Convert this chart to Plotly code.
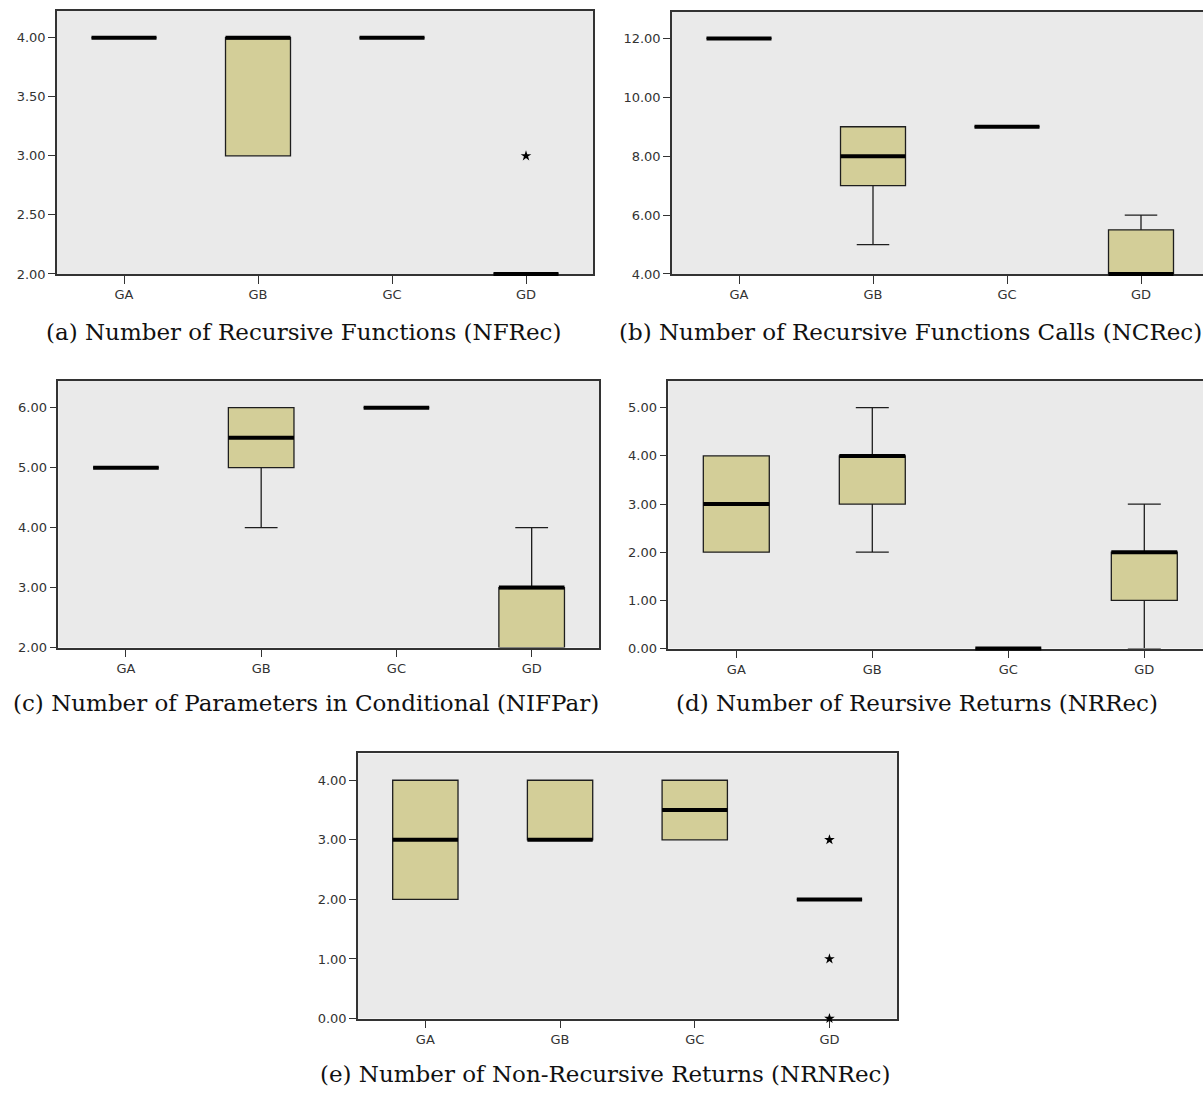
import plotly.graph_objects as go

W, H = 1203, 1097

groups = ["GA", "GB", "GC", "GD"]

# (a) Number of Recursive Functions
nfrec_q1 = [4, 3, 4, 2]
nfrec_median = [4, 4, 4, 2]
nfrec_q3 = [4, 4, 4, 2]
nfrec_lower = [4, 3, 4, 2]
nfrec_upper = [4, 4, 4, 2]
nfrec_out_group = ["GD"]
nfrec_out_value = [3]

# (b) Number of Recursive Functions Calls
ncrec_q1 = [12, 7, 9, 4]
ncrec_median = [12, 8, 9, 4]
ncrec_q3 = [12, 9, 9, 5.5]
ncrec_lower = [12, 5, 9, 4]
ncrec_upper = [12, 9, 9, 6]
ncrec_out_group = []
ncrec_out_value = []

# (c) Number of Parameters in Conditional
nifpar_q1 = [5, 5, 6, 2]
nifpar_median = [5, 5.5, 6, 3]
nifpar_q3 = [5, 6, 6, 3]
nifpar_lower = [5, 4, 6, 2]
nifpar_upper = [5, 6, 6, 4]
nifpar_out_group = []
nifpar_out_value = []

# (d) Number of Recursive Returns
nrrec_q1 = [2, 3, 0, 1]
nrrec_median = [3, 4, 0, 2]
nrrec_q3 = [4, 4, 0, 2]
nrrec_lower = [2, 2, 0, 0]
nrrec_upper = [4, 5, 0, 3]
nrrec_out_group = []
nrrec_out_value = []

# (e) Number of Non-Recursive Returns
nrnrec_q1 = [2, 3, 3, 2]
nrnrec_median = [3, 3, 3.5, 2]
nrnrec_q3 = [4, 4, 4, 2]
nrnrec_lower = [2, 3, 3, 2]
nrnrec_upper = [4, 4, 4, 2]
nrnrec_out_group = ["GD", "GD", "GD"]
nrnrec_out_value = [3, 1, 0]

# y tick values per panel
ticks_a = [2.0, 2.5, 3.0, 3.5, 4.0]
ticks_b = [4, 6, 8, 10, 12]
ticks_c = [2, 3, 4, 5, 6]
ticks_d = [0, 1, 2, 3, 4, 5]
ticks_e = [0, 1, 2, 3, 4]

captions = [
    "(a) Number of Recursive Functions (NFRec)",
    "(b) Number of Recursive Functions Calls (NCRec)",
    "(c) Number of Parameters in Conditional (NIFPar)",
    "(d) Number of Reursive Returns (NRRec)",
    "(e) Number of Non-Recursive Returns (NRNRec)",
]

BOX_W = 0.485
FILL = "#D3CE98"
BG = "#EAEAEA"
FRAME = "#333333"
TICKFONT = dict(family="DejaVu Sans", size=13, color="#333333")
LINE_EW_SCALE = 1.4  # plotly draws line-ew markers 1.4x their nominal size

# panel frames in pixels: left, top, right, bottom; px per category; y range; closed right side
panels = [
    dict(stats=(nfrec_q1, nfrec_median, nfrec_q3, nfrec_lower, nfrec_upper),
         out=(nfrec_out_group, nfrec_out_value), ticks=ticks_a,
         frame=(57, 11, 593, 276), cat_px=134, yr=(2, 4.227), closed=True,
         cap=(303, 334)),
    dict(stats=(ncrec_q1, ncrec_median, ncrec_q3, ncrec_lower, ncrec_upper),
         out=(ncrec_out_group, ncrec_out_value), ticks=ticks_b,
         frame=(672, 12, W, 276), cat_px=134, yr=(4, 12.9), closed=False,
         cap=(911, 334)),
    dict(stats=(nifpar_q1, nifpar_median, nifpar_q3, nifpar_lower, nifpar_upper),
         out=(nifpar_out_group, nifpar_out_value), ticks=ticks_c,
         frame=(58.3, 383.3, 599.3, 652.3), cat_px=135.25, yr=(2, 6.454), closed=True,
         cap=(305.5, 708)),
    dict(stats=(nrrec_q1, nrrec_median, nrrec_q3, nrrec_lower, nrrec_upper),
         out=(nrrec_out_group, nrrec_out_value), ticks=ticks_d,
         frame=(668.3, 383.3, W, 653.3), cat_px=136, yr=(0, 5.565), closed=False,
         cap=(917, 708)),
    dict(stats=(nrnrec_q1, nrnrec_median, nrnrec_q3, nrnrec_lower, nrnrec_upper),
         out=(nrnrec_out_group, nrnrec_out_value), ticks=ticks_e,
         frame=(358, 759, 897, 1026), cat_px=134.7, yr=(0, 4.45), closed=True,
         cap=(604.5, 1082)),
]

fig = go.Figure()
layout = {}
annotations = []
pos = list(range(len(groups)))

for k, p in enumerate(panels):
    n = "" if k == 0 else str(k + 1)
    xa, ya = "x" + n, "y" + n
    q1, med, q3, lo, hi = p["stats"]

    fig.add_trace(go.Box(
        x=pos, q1=q1, median=med, q3=q3, lowerfence=lo, upperfence=hi,
        width=BOX_W, whiskerwidth=0.5, fillcolor=FILL,
        line=dict(color="#1e1e1e", width=1.3),
        xaxis=xa, yaxis=ya, showlegend=False, hoverinfo="skip",
    ))

    # thick median bars, drawn as unclipped horizontal-line markers one box wide
    fig.add_trace(go.Scatter(
        x=pos, y=med, mode="markers",
        marker=dict(symbol="line-ew", size=BOX_W * p["cat_px"] / LINE_EW_SCALE,
                    line=dict(color="black", width=4)),
        xaxis=xa, yaxis=ya, showlegend=False, hoverinfo="skip", cliponaxis=False,
    ))

    og, ov = p["out"]
    if og:
        fig.add_trace(go.Scatter(
            x=[groups.index(g) for g in og], y=ov, mode="markers",
            marker=dict(symbol="star", size=8, color="black"),
            xaxis=xa, yaxis=ya, showlegend=False, hoverinfo="skip", cliponaxis=False,
        ))

    left, top, right, bottom = p["frame"]
    width_px = right - left
    xmax = -0.5 + width_px / p["cat_px"]
    layout["xaxis" + n] = dict(
        domain=[left / W, min(right / W, 1.0)], anchor=ya, range=[-0.5, xmax],
        tickvals=pos, ticktext=groups, ticks="outside", ticklen=8, tickwidth=1.3,
        tickcolor=FRAME, showline=True, linecolor=FRAME, linewidth=1.5, mirror=True,
        showgrid=False, zeroline=False, tickfont=TICKFONT, fixedrange=True,
        layer="below traces",
    )
    layout["yaxis" + n] = dict(
        domain=[1 - bottom / H, 1 - top / H], anchor=xa, range=list(p["yr"]),
        tickvals=p["ticks"], ticktext=["%.2f" % t for t in p["ticks"]],
        ticks="outside", ticklen=7, tickwidth=1.3, tickcolor=FRAME,
        showline=True, linecolor=FRAME, linewidth=1.5, mirror=p["closed"],
        showgrid=False, zeroline=False, tickfont=TICKFONT, fixedrange=True,
        layer="below traces",
    )
    cx, cy = p["cap"]
    annotations.append(dict(
        text=captions[k], x=cx / W, y=1 - cy / H, xref="paper", yref="paper",
        showarrow=False, xanchor="center", yanchor="middle",
        font=dict(family="DejaVu Serif", size=23, color="#111111"),
    ))

fig.update_layout(
    width=W, height=H, margin=dict(l=0, r=0, t=0, b=0),
    paper_bgcolor="white", plot_bgcolor=BG, showlegend=False,
    annotations=annotations, boxmode="overlay", **layout,
)

fig.write_html("out.html")
